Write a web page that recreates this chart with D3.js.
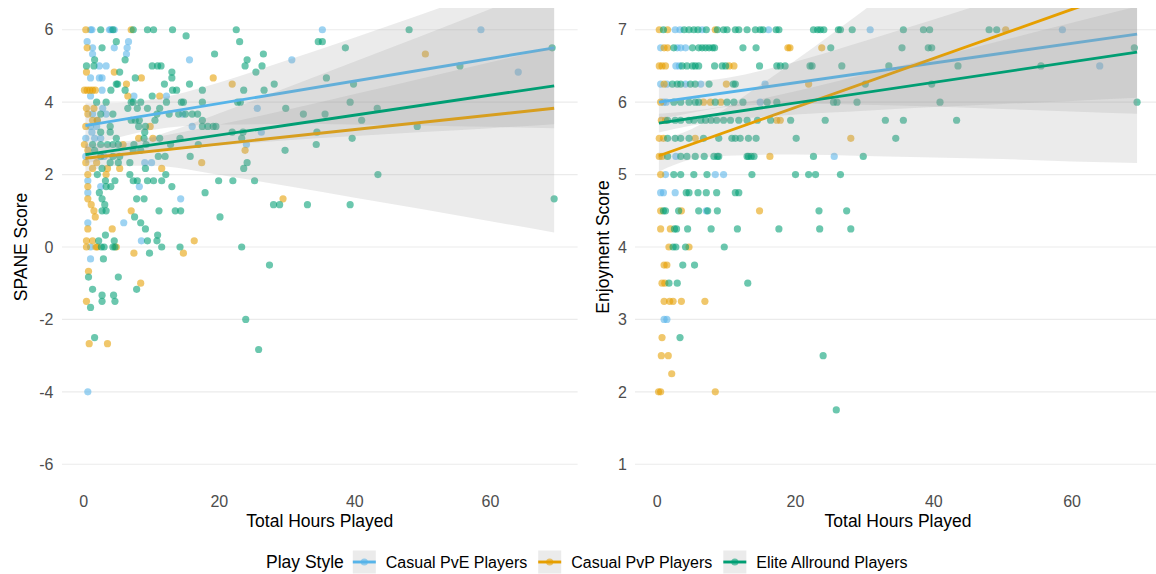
<!DOCTYPE html>
<html>
<head>
<meta charset="utf-8">
<script src="https://cdn.jsdelivr.net/npm/d3@7"></script>
<style>
  body { margin: 0; background: #fff; }
  svg { display: block; font-family: "Liberation Sans", Arial, Helvetica, sans-serif; }
</style>
</head>
<body>
<svg id="chart"></svg>
<script>
(function() {

// ---- data ----
var styles = ["Casual PvE Players", "Casual PvP Players", "Elite Allround Players"];
var colors = ["#56B4E9", "#E69F00", "#009E73"];

var hoursTicks = [0, 20, 40, 60];
var spaneTicks = [-6, -4, -2, 0, 2, 4, 6];
var enjoyTicks = [1, 2, 3, 4, 5, 6, 7];

// [hours, SPANE score]
var pveSpane = [[1.0,6],[1.2,6],[3.8,6],[4.0,6],[4.5,6],[35.2,6],[58.6,6],
  [0.5,5.67],[1.3,5.5],[1.3,5.33],[4.5,5.5],[6.6,5.67],[6.4,5.5],[6.3,5.33],[2.3,5],[3.3,5],[15.6,5.17],[30.7,5.17],[64.1,4.83],
  [1.0,4.67],[2.3,4.67],[2.7,4.67],[2.7,4.33],[1.0,4.17],[7.4,4.17],[12.2,4.17],[2.8,3.83],[25.6,3.83],[1.3,3.67],[3.3,3.67],
  [14.6,3.67],[2.0,3.5],[1.0,3.33],[1.9,3.33],[16,3.33],[1.2,3.17],[26.2,3.17],[0.3,3],[1.6,3],[2.5,3],[24,2.83],[0.3,2.5],
  [3.0,2.5],[9.0,2.33],[10,2.33],[0.6,1.83],[2.5,1.67],[8.2,1.67],[0.6,1.5],[14.3,1.33],[0.6,0.67],[5.9,0.67],[8.5,0.17],
  [1.0,0],[1.0,-0.33],[0.6,-4]];

var pvpSpane = [[0.3,6],[7.0,6],[0.5,5.5],[0.4,4.83],[4.5,4.83],[8.5,4.67],[19.1,4.67],[21.9,4.5],[0.1,4.33],[0.5,4.33],
  [0.9,4.33],[1.3,4.33],[1.7,4.33],[6.3,4.5],[6.5,4.17],[11.2,4.17],[0.4,3.83],[1.5,3.83],[0.6,3.67],[1.3,3.5],[2.0,3.5],
  [0.3,3.33],[9.8,3.33],[8.1,3],[10.2,3],[0.1,2.83],[5.8,2.83],[0.6,2.67],[23.8,2.67],[0.3,2.33],[1.9,2.33],[17.4,2.33],
  [1.3,2.17],[3.5,2.17],[5.3,2.17],[11.5,2.17],[0.6,2],[3.3,2],[0.6,1.67],[0.6,1.33],[29.4,1.33],[1.1,1.17],[1.5,1],[7.0,1],
  [1.7,0.83],[0.6,0.5],[4.2,0.5],[0.4,0.17],[1.3,0.17],[16.3,0.17],[0.4,0],[1.8,0],[2.0,0],[4.8,0],[7.4,-0.17],[14.7,-0.17],
  [0.7,-0.67],[8.4,-1],[0.4,-1.5],[0.8,-2.67],[3.5,-2.67],[50.4,5.33]];

var eliteSpane = [[2.5,6],[4.3,6],[7.3,6],[9.4,6],[10.3,6],[13.1,6],[22.5,6],[48,6],[15.1,5.83],
  [4.8,5.67],[23,5.67],[34.6,5.67],[35.2,5.67],[2.7,5.5],[38.6,5.5],[69.1,5.5],[19.3,5.33],[26.5,5.33],
  [1.6,5.17],[6.1,5.17],[24.1,5.17],[0.4,5],[1.5,5],[10.1,5],[10.9,5],[11.4,5],[23.8,5],[26.3,5],[55.5,5],
  [5.3,4.83],[13,4.83],[25.4,4.83],[7.6,4.67],[13,4.67],[35.8,4.67],[4.8,4.5],[5.0,4.5],[11.9,4.5],[15.6,4.5],[28.1,4.5],[39.8,4.5],
  [4.0,4.33],[6.1,4.33],[13.1,4.33],[13.7,4.33],[17.5,4.33],[23.6,4.33],[26.6,4.33],[10.1,4.17],
  [1.9,4],[3.3,4],[7.0,4],[7.3,4],[8.4,4],[12.2,4],[14.4,4],[14.7,4],[17.5,4],[22.7,4],[23.1,4],[39.3,4],
  [6.5,3.83],[7.9,3.83],[9.4,3.83],[11.2,3.83],[29.8,3.83],[43.3,3.83],
  [2.5,3.67],[4.3,3.67],[10.8,3.67],[12.6,3.67],[14.0,3.67],[15.0,3.67],[16.0,3.67],[16.8,3.67],[32.4,3.67],[35.6,3.67],
  [7.0,3.5],[7.6,3.5],[8.2,3.5],[10.5,3.5],[17.5,3.5],[41,3.5],
  [3.9,3.33],[8.1,3.33],[9.1,3.33],[17.5,3.33],[18.3,3.33],[19.1,3.33],[19.5,3.33],[49.2,3.33],
  [2.5,3.17],[3.9,3.17],[9.0,3.17],[21.9,3.17],[23.5,3.17],[34.4,3.17],
  [4.8,3],[8.9,3],[11.2,3],[14.2,3],[23.3,3],[39.6,3],
  [1.3,2.83],[2.5,2.83],[3.5,2.83],[4.3,2.83],[5.1,2.83],[7.4,2.83],[9.2,2.83],[12.8,2.83],[16.9,2.83],[34.3,2.83],
  [1.6,2.67],[7.3,2.67],[8.4,2.67],[29.7,2.67],[2.5,2.5],[4.3,2.5],[5.3,2.5],[11,2.5],[12,2.5],[15.7,2.5],
  [3.9,2.33],[5.1,2.33],[6.8,2.33],[24.1,2.33],[2.7,2.17],[9.1,2.17],[23.6,2.17],[2.0,2],[6.8,2],[12.1,2],[43.4,2],
  [3.2,1.83],[4.6,1.83],[7.3,1.83],[7.9,1.83],[9.4,1.83],[10.3,1.83],[11.5,1.83],[19.9,1.83],[22,1.83],[25.2,1.83],
  [3.3,1.67],[4.0,1.67],[13,1.67],[2.3,1.5],[17.9,1.5],[2.7,1.33],[7.8,1.33],[8.9,1.33],[69.4,1.33],
  [3.1,1.17],[28,1.17],[28.9,1.17],[33,1.17],[39.3,1.17],[2.7,1],[3.3,1],[11.1,1],[13.5,1],[14.3,1],
  [7.5,0.83],[20.1,0.83],[8.4,0.67],[9.1,0.5],[3.2,0.33],[10.9,0.33],[2.2,0.17],[4.5,0.17],[10.8,0.17],[9.4,0.17],
  [2.6,0],[3.0,0],[4.3,0],[4.6,0],[11.5,0],[14.2,0],[23.3,0],[9.7,-0.17],[2.9,-0.33],[27.4,-0.5],
  [0.7,-0.83],[5.1,-0.83],[1.3,-1.17],[7.8,-1.17],[2.7,-1.33],[4.4,-1.33],[2.7,-1.5],[4.6,-1.5],[1.0,-1.67],
  [23.9,-2],[1.6,-2.5],[25.8,-2.83]];

// [hours, enjoyment score]
var pveEnjoy = [[2.6,7],[3.3,7],[6.5,7],[16.1,7],[30.8,7],[58.6,7],[0.5,6.75],[2.9,6.75],[3.4,6.75],[4.1,6.75],
  [2.7,6.5],[3.2,6.5],[64,6.5],[0.5,6.25],[1.4,6.25],[4.1,6.25],[6.3,6.25],[15.6,6.25],[0.9,6],[1.3,6],[14.9,6],
  [2.7,5.25],[25.6,5.25],[1.2,5],[8.4,5],[9.6,5],[0.5,4.75],[0.9,4.75],[2.6,4.75],[7.1,4.5],[1.0,3],[1.4,3]];

var pvpEnjoy = [[0.3,7],[1.5,7],[8.4,7],[50.4,7],[1.0,6.75],[1.5,6.75],[18.9,6.75],[19.2,6.75],[23.8,6.75],
  [0.3,6.5],[0.7,6.5],[1.2,6.5],[10.4,6.5],[11.1,6.5],[1.0,6.25],[10,6.25],[21.9,6.25],[0.5,6],[6.7,6],[7.7,6],[9.2,6],
  [0.6,5.75],[1.2,5.75],[17.3,5.75],[17.8,5.75],[0.3,5.5],[0.9,5.5],[5.5,5.5],[28,5.5],[0.3,5.25],[0.7,5.25],[16.3,5.25],
  [0.5,5],[0.5,4.5],[3.5,4.5],[14.8,4.5],[0.5,4.25],[1.9,4.25],[1.7,4],[4.6,4],[1.0,3.75],[1.4,3.75],[0.7,3.5],[1.1,3.5],
  [1,3.25],[1.8,3.25],[2.3,3.25],[3.5,3.25],[6.9,3.25],[0.7,2.75],[0.6,2.5],[1.6,2.5],[2.1,2.25],[0.2,2],[0.5,2],[8.4,2]];

var eliteEnjoy = [[0.9,7],[3.9,7],[4.6,7],[5.3,7],[5.9,7],[7.1,7],[8.7,7],[9.6,7],[10.1,7],[11.3,7],[11.8,7],[13,7],
  [14.2,7],[14.9,7],[15.3,7],[17.2,7],[17.6,7],[22.6,7],[23.2,7],[23.6,7],[24.1,7],[26.2,7],[26.5,7],[28.2,7],[35.6,7],
  [38.5,7],[39.4,7],[48,7],[49.1,7],
  [2.4,6.75],[5.1,6.75],[6,6.75],[6.5,6.75],[7,6.75],[7.5,6.75],[8,6.75],[8.3,6.75],[12.4,6.75],[14.3,6.75],[25.1,6.75],
  [35.4,6.75],[39.2,6.75],[39.7,6.75],[69,6.75],
  [3.6,6.5],[4.3,6.5],[5.1,6.5],[5.5,6.5],[6,6.5],[8.3,6.5],[9.4,6.5],[9.9,6.5],[14.8,6.5],[17.3,6.5],[17.8,6.5],[18.5,6.5],
  [22.1,6.5],[22.4,6.5],[26.7,6.5],[33.5,6.5],[43.5,6.5],[55.5,6.5],
  [2.2,6.25],[2.9,6.25],[3.4,6.25],[4.8,6.25],[5.5,6.25],[7.5,6.25],[11,6.25],[11.3,6.25],[30.1,6.25],[39.7,6.25],
  [2.4,6],[3.4,6],[4.6,6],[5.5,6],[6,6],[8.4,6],[10.1,6],[11.1,6],[12.4,6],[15.9,6],[17.3,6],[25.5,6],[26,6],[28.9,6],
  [40.9,6],[69.4,6],
  [1.5,5.75],[2.6,5.75],[3.4,5.75],[4.6,5.75],[5.3,5.75],[6.3,5.75],[7,5.75],[7.8,5.75],[8.6,5.75],[9.6,5.75],[10.6,5.75],
  [11.8,5.75],[13,5.75],[14.5,5.75],[16.4,5.75],[19.3,5.75],[24.3,5.75],[33,5.75],[35.6,5.75],[43.3,5.75],
  [1.5,5.5],[2.6,5.5],[3.4,5.5],[4.6,5.5],[6.7,5.5],[8.9,5.5],[10.8,5.5],[11.3,5.5],[12,5.5],[13.2,5.5],[14.3,5.5],
  [20.1,5.5],[34.5,5.5],
  [1.5,5.25],[3.4,5.25],[4.3,5.25],[5.5,5.25],[6.8,5.25],[8.2,5.25],[8.7,5.25],[8.9,5.25],[13,5.25],[13.2,5.25],[13.6,5.25],
  [14,5.25],[22.6,5.25],[29.8,5.25],
  [2.4,5],[3.4,5],[5.3,5],[7.2,5],[13.7,5],[20,5],[21.9,5],[22.9,5],[26.5,5],
  [4.2,4.75],[4.6,4.75],[5.9,4.75],[7.1,4.75],[8.6,4.75],[11.3,4.75],[11.8,4.75],
  [0.9,4.5],[1.2,4.5],[3.1,4.5],[6,4.5],[7.3,4.5],[8.7,4.5],[23.4,4.5],[27.4,4.5],
  [2.5,4.25],[2.8,4.25],[4.4,4.25],[7.8,4.25],[11.6,4.25],[17.6,4.25],[23.5,4.25],[28,4.25],
  [2.3,4],[2.7,4],[4.1,4],[9.7,4],[3.7,3.75],[5.4,3.75],[1.7,3.5],[2.9,3.5],[13.1,3.5],[3.3,2.75],[24,2.5],[25.9,1.75]];

// linear fits: [value at first hour, value at last hour] per play style
var fitHours = [0.25, 69.4];
var spaneFit = [[3.35, 5.5], [2.45, 3.83], [2.55, 4.45]];
var enjoyFit = [[6.0, 6.94], [5.26, 7.6], [5.71, 6.69]];

// confidence band half-widths, read at these hours
var bandHours = [0.25, 5, 10, 20, 30, 40, 50, 60, 69.4];
var spaneBand = [
  [0.62, 0.48, 0.42, 0.58, 0.88, 1.2, 1.54, 1.89, 2.22],
  [0.39, 0.3, 0.4, 0.85, 1.36, 1.88, 2.4, 2.93, 3.43],
  [0.24, 0.21, 0.2, 0.29, 0.42, 0.58, 0.74, 0.91, 1.06]
];
var enjoyBand = [
  [0.24, 0.21, 0.2, 0.29, 0.44, 0.6, 0.77, 0.94, 1.1],
  [0.22, 0.21, 0.33, 0.65, 1.01, 1.37, 1.73, 2.1, 2.44],
  [0.13, 0.1, 0.1, 0.16, 0.25, 0.34, 0.44, 0.54, 0.63]
];

// ---- layout ----
var width = 1156, height = 574;
var top = 8, bottom = 486;
var pointR = 3.6, lineW = 2.9;

var svg = d3.select("#chart").attr("width", width).attr("height", height);
var defs = svg.append("defs");

var panels = [
  {id: "spane", left: 62, right: 577.6, yDomain: [-6.6, 6.6], ticks: spaneTicks,
   title: "SPANE Score", titleX: 27, tickX: 53.5,
   points: [pveSpane, pvpSpane, eliteSpane], fit: spaneFit, band: spaneBand},
  {id: "enjoy", left: 635, right: 1161, yDomain: [0.7, 7.3], ticks: enjoyTicks,
   title: "Enjoyment Score", titleX: 609, tickX: 627,
   points: [pveEnjoy, pvpEnjoy, eliteEnjoy], fit: enjoyFit, band: enjoyBand}
];

panels.forEach(function(p) {
  var x = d3.scaleLinear().domain([-3.21, 72.86]).range([p.left, p.right]);
  var y = d3.scaleLinear().domain(p.yDomain).range([bottom, top]);
  var g = svg.append("g").attr("class", "panel-" + p.id);

  defs.append("clipPath").attr("id", "clip-" + p.id)
    .append("rect")
      .attr("x", p.left).attr("y", top)
      .attr("width", p.right - p.left).attr("height", bottom - top);

  // horizontal grid
  g.selectAll(".grid").data(p.ticks).enter().append("line")
    .attr("class", "grid")
    .attr("x1", p.left).attr("x2", p.right)
    .attr("y1", function(d) { return y(d); })
    .attr("y2", function(d) { return y(d); })
    .attr("stroke", "#ebebeb").attr("stroke-width", 1.1);

  // y tick labels
  g.selectAll(".ytick").data(p.ticks).enter().append("text")
    .attr("class", "ytick")
    .attr("x", p.tickX)
    .attr("y", function(d) { return y(d); })
    .attr("dy", "0.36em")
    .attr("text-anchor", "end")
    .attr("fill", "#4d4d4d").attr("font-size", "16px")
    .text(function(d) { return d; });

  // x tick labels
  g.selectAll(".xtick").data(hoursTicks).enter().append("text")
    .attr("class", "xtick")
    .attr("x", function(d) { return x(d); })
    .attr("y", 507)
    .attr("text-anchor", "middle")
    .attr("fill", "#4d4d4d").attr("font-size", "16px")
    .text(function(d) { return d; });

  // axis titles
  g.append("text")
    .attr("x", (p.left + p.right) / 2).attr("y", 527)
    .attr("text-anchor", "middle")
    .attr("fill", "#000").attr("font-size", "17.5px")
    .text("Total Hours Played");

  g.append("text")
    .attr("transform", "translate(" + p.titleX + "," + ((top + bottom) / 2) + ") rotate(-90)")
    .attr("text-anchor", "middle")
    .attr("fill", "#000").attr("font-size", "17.5px")
    .text(p.title);

  var plot = g.append("g").attr("clip-path", "url(#clip-" + p.id + ")");

  // points
  p.points.forEach(function(pts, i) {
    plot.append("g").selectAll("circle").data(pts).enter().append("circle")
      .attr("cx", function(d) { return x(d[0]); })
      .attr("cy", function(d) { return y(d[1]); })
      .attr("r", pointR)
      .attr("fill", colors[i])
      .attr("fill-opacity", 0.58);
  });

  // smooths: ribbon then line, per group
  p.fit.forEach(function(f, i) {
    var slope = (f[1] - f[0]) / (fitHours[1] - fitHours[0]);
    var band = bandHours.map(function(h, j) {
      var c = f[0] + slope * (h - fitHours[0]);
      return {h: h, lo: c - p.band[i][j], hi: c + p.band[i][j]};
    });
    var area = d3.area()
      .curve(d3.curveMonotoneX)
      .x(function(d) { return x(d.h); })
      .y0(function(d) { return y(d.lo); })
      .y1(function(d) { return y(d.hi); });
    plot.append("path")
      .attr("d", area(band))
      .attr("fill", "#999999").attr("fill-opacity", 0.2);

    var line = d3.line()
      .x(function(d) { return x(d[0]); })
      .y(function(d) { return y(d[1]); });
    plot.append("path")
      .attr("d", line([[fitHours[0], f[0]], [fitHours[1], f[1]]]))
      .attr("fill", "none")
      .attr("stroke", colors[i]).attr("stroke-width", lineW);
  });
});

// ---- legend ----
var legend = svg.append("g").attr("class", "legend");
var ly = 562, keySize = 23;
var lt = legend.append("text")
  .attr("x", 266).attr("y", ly).attr("dy", "0.36em")
  .attr("font-size", "17.5px").attr("fill", "#000")
  .text("Play Style");
var cx = 266 + lt.node().getComputedTextLength() + 9;

styles.forEach(function(s, i) {
  var k = legend.append("g").attr("transform", "translate(" + cx + "," + (ly - keySize / 2) + ")");
  k.append("rect").attr("width", keySize).attr("height", keySize)
    .attr("fill", "#999999").attr("fill-opacity", 0.2);
  k.append("line")
    .attr("x1", 0).attr("x2", keySize)
    .attr("y1", keySize / 2).attr("y2", keySize / 2)
    .attr("stroke", colors[i]).attr("stroke-width", lineW);
  k.append("circle")
    .attr("cx", keySize / 2).attr("cy", keySize / 2).attr("r", pointR)
    .attr("fill", colors[i]).attr("fill-opacity", 0.58);
  var t = legend.append("text")
    .attr("x", cx + keySize + 10).attr("y", ly).attr("dy", "0.36em")
    .attr("font-size", "16px").attr("fill", "#000")
    .text(s);
  cx += keySize + 10 + t.node().getComputedTextLength() + 11;
});

})();
</script>
</body>
</html>
